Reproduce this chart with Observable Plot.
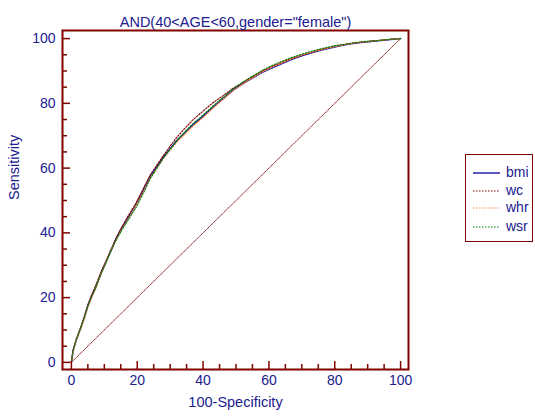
<!DOCTYPE html>
<html><head><meta charset="utf-8">
<script src="https://cdn.jsdelivr.net/npm/d3@7"></script>
<script src="https://cdn.jsdelivr.net/npm/@observablehq/plot@0.6"></script>
<style>
html,body{margin:0;padding:0;background:#fff;}
#wrap{position:relative;width:535px;height:417px;overflow:hidden;font-family:"Liberation Sans",Arial,sans-serif;}
#wrap svg{position:absolute;left:0;top:0;}
#legend{position:absolute;left:465px;top:154px;width:68px;height:88px;border:1.5px solid #800000;box-sizing:border-box;}
.li{position:absolute;font-size:14px;color:#20208f;line-height:16px;}
</style></head><body><div id="wrap"></div>
<script>
const title = 'AND(40<AGE<60,gender="female")';
const xLabel = "100-Specificity";
const yLabel = "Sensitivity";
const majorTicks = [0, 20, 40, 60, 80, 100];
const minorTicks = [5, 10, 15, 25, 30, 35, 45, 50, 55, 65, 70, 75, 85, 90, 95];
const seriesNames = ["bmi", "wc", "whr", "wsr"];
const seriesColors = ["#2020a8", "#800000", "#ff8040", "#008000"];
const seriesDash = [null, "1.5,1.5", "1.5,1.5", "1.5,1.5"];
const diagX = [0, 100];
const diagY = [0, 100];
const fpr = [0,0.5,1.5,2.8,4,5,6,7.5,9,10.5,12,13.5,15,16.5,18,19.5,21,22.5,24,26,28,30,32,34.5,37,40,43,46,49,52,55,58,61,64,67,70,73,76,79,82,85,88,91,94,97,100];
const tprBmi = [0,3.5,7,10.5,14,17.5,20,23.5,27.5,31,34.5,38,41,43.5,46,48.5,51.5,54.5,57.5,60.5,63.5,66,68.5,71,73.5,76,78.8,81.3,84,86,87.8,89.6,91,92.3,93.6,94.7,95.6,96.5,97.2,97.9,98.4,98.8,99.1,99.4,99.7,100];
const tprWc = [0,3.8,7.3,10.8,14.5,17.8,20.5,24,28,31.3,34.8,38.2,41.2,44,46.5,49,52,55,58,61,64,66.8,69.5,72.3,75,77.6,80.2,82.3,84.6,86.4,88.2,90,91.4,92.7,93.9,94.9,95.8,96.7,97.4,98,98.5,98.9,99.2,99.5,99.8,100];
const tprWhr = [0,3.2,6.8,10.2,13.6,17,19.6,23,27.2,30.8,34.5,37.6,40.5,43,45.6,48.2,51,54,57,60,63,65.6,68,70.5,73,75.6,78.5,81.2,83.8,85.9,87.9,89.7,91.2,92.5,93.8,94.9,95.8,96.6,97.3,97.9,98.5,98.9,99.2,99.5,99.8,100];
const tprWsr = [0,3.6,7.1,10.6,14.2,17.4,20,23.4,27.3,30.8,34.3,37.6,40.3,42.8,45.2,47.6,50.5,53.6,56.8,60,63.2,65.8,68.4,71.2,73.8,76.4,79.2,81.8,84.4,86.5,88.4,90.2,91.7,93,94.2,95.2,96.1,96.9,97.6,98.1,98.6,99,99.3,99.5,99.8,100];
const tprs = [tprBmi, tprWc, tprWhr, tprWsr];

const navy = "#20208f";
const axisRed = "#800000";
const font = '"Liberation Sans",Arial,sans-serif';

const diag = diagX.map((x, i) => ({x, y: diagY[i]}));
const curveMarks = seriesNames.map((name, s) =>
  Plot.line(fpr.map((x, i) => ({x, y: tprs[s][i]})), {
    x: "x", y: "y", stroke: seriesColors[s],
    strokeWidth: s === 0 ? 1.5 : 1.1,
    strokeDasharray: seriesDash[s]
  })
);

const chart = Plot.plot({
  width: 535, height: 417,
  marginLeft: 62, marginRight: 127, marginTop: 30, marginBottom: 48,
  style: {fontFamily: font, background: "transparent"},
  x: {domain: [-2.7, 102.4], axis: null},
  y: {domain: [-2.2, 102.5], axis: null},
  marks: [
    Plot.line(diag, {x: "x", y: "y", stroke: "#8b1010", strokeWidth: 0.9, strokeDasharray: "1,1"}),
    ...curveMarks,
    Plot.axisX(majorTicks, {anchor: "bottom", label: null, tickSize: -8, tickFormat: () => "", stroke: axisRed, strokeWidth: 1.5}),
    Plot.axisX(minorTicks, {anchor: "bottom", label: null, tickSize: -5, tickFormat: () => "", stroke: axisRed, strokeWidth: 1.5}),
    Plot.axisY(majorTicks, {anchor: "left", label: null, tickSize: -8, tickFormat: () => "", stroke: axisRed, strokeWidth: 1.5}),
    Plot.axisY(minorTicks, {anchor: "left", label: null, tickSize: -5, tickFormat: () => "", stroke: axisRed, strokeWidth: 1.5}),
    Plot.axisX(majorTicks, {anchor: "bottom", label: null, tickSize: 0, tickPadding: 6, fill: navy, fontSize: 14, tickFormat: d => String(d)}),
    Plot.axisY(majorTicks, {anchor: "left", label: null, tickSize: 0, tickPadding: 7, fill: navy, fontSize: 14, tickFormat: d => String(d)}),
    Plot.frame({stroke: axisRed, strokeWidth: 2}),
    Plot.text([title], {frameAnchor: "top", dy: -14, fill: navy, fontSize: 14.5}),
    Plot.text([xLabel], {frameAnchor: "bottom", dy: 37, fill: navy, fontSize: 14.5}),
    Plot.text([yLabel], {frameAnchor: "left", dx: -48, rotate: -90, fill: navy, fontSize: 14.5})
  ]
});

const wrap = document.getElementById("wrap");
wrap.appendChild(chart);

const legend = document.createElement("div");
legend.id = "legend";
wrap.appendChild(legend);
const rowY = [173, 191, 208, 227];
seriesNames.forEach((name, s) => {
  const sw = document.createElementNS("http://www.w3.org/2000/svg", "svg");
  sw.setAttribute("width", 30); sw.setAttribute("height", 6);
  sw.style.position = "absolute"; sw.style.left = "472px"; sw.style.top = (rowY[s] - 3) + "px";
  const ln = document.createElementNS("http://www.w3.org/2000/svg", "line");
  ln.setAttribute("x1", 1); ln.setAttribute("x2", 28); ln.setAttribute("y1", 3); ln.setAttribute("y2", 3);
  ln.setAttribute("stroke", seriesColors[s]);
  ln.setAttribute("stroke-width", s === 0 ? 1.5 : 1.1);
  if (seriesDash[s]) ln.setAttribute("stroke-dasharray", seriesDash[s]);
  sw.appendChild(ln);
  wrap.appendChild(sw);
  const t = document.createElement("div");
  t.className = "li";
  t.textContent = name;
  t.style.left = "506px"; t.style.top = (rowY[s] - 9) + "px";
  wrap.appendChild(t);
});
</script></body></html>
